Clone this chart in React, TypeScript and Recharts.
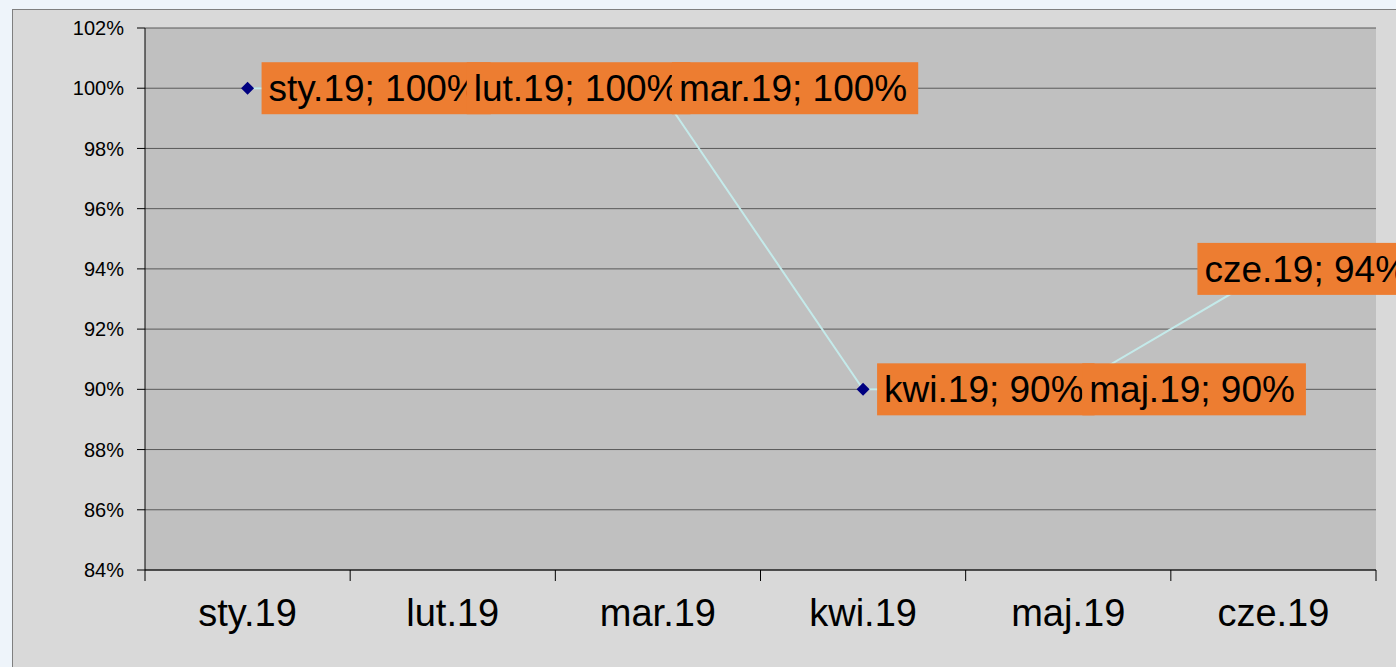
import React from "react";
import { LineChart, Line, XAxis, YAxis, CartesianGrid, LabelList } from "recharts";

const months = ["sty.19", "lut.19", "mar.19", "kwi.19", "maj.19", "cze.19"];
const values = [100, 100, 100, 90, 90, 94];
const yTicks = [84, 86, 88, 90, 92, 94, 96, 98, 100, 102];

const data = months.map((m, i) => ({ month: m, v: values[i] }));

const FONT = "'Liberation Sans', Arial, sans-serif";
const CHART_W = 1383;
const CHART_H = 657;
const MARGIN = { top: 18, right: 20, left: 0, bottom: 0 };
const Y_W = 132;
const X_H = 97;
const PLOT_W = CHART_W - MARGIN.right - Y_W;
const LABEL_FS = 37;

let ctx: CanvasRenderingContext2D | null = null;
const measure = (text: string, size: number) => {
  if (!ctx) ctx = document.createElement("canvas").getContext("2d");
  if (!ctx) return text.length * size * 0.52;
  ctx.font = `${size}px ${FONT}`;
  return ctx.measureText(text).width;
};

const XTick = (props: any) => {
  const { x, y, payload, index } = props;
  const bw = PLOT_W / months.length;
  return (
    <g>
      <line x1={x - bw / 2} y1={y} x2={x - bw / 2} y2={y + 11} stroke="#000" />
      {index === months.length - 1 && (
        <line x1={x + bw / 2} y1={y} x2={x + bw / 2} y2={y + 11} stroke="#000" />
      )}
      <text x={x} y={y + 56} textAnchor="middle" fontSize={38} fontFamily={FONT} fill="#000">
        {payload.value}
      </text>
    </g>
  );
};

const Diamond = (props: any) => {
  const { cx, cy, index } = props;
  if (cx == null || cy == null) return null;
  const r = 6.5;
  return (
    <polygon
      key={`d-${index}`}
      points={`${cx},${cy - r} ${cx + r},${cy} ${cx},${cy + r} ${cx - r},${cy}`}
      fill="#000080"
    />
  );
};

const BoxLabel = (props: any) => {
  const x = props.x ?? props.viewBox?.x;
  const y = props.y ?? props.viewBox?.y;
  const { value, index } = props;
  if (x == null || y == null) return null;
  const text = `${months[index]}; ${value}%`;
  const w = measure(text, LABEL_FS);
  // last label sits shifted left of its point, as in the original
  const left = index === months.length - 1 ? x - 76 : x + 14;
  return (
    <g>
      <rect x={left} y={y - 26} width={w + 18} height={52} fill="#ed7d31" />
      <text x={left + 7} y={y + 13} fontSize={LABEL_FS} fontFamily={FONT} fill="#000">
        {text}
      </text>
    </g>
  );
};

const App = () => {
  return (
    <div
      style={{
        position: "absolute",
        left: 0,
        top: 0,
        width: 1396,
        height: 667,
        overflow: "hidden",
        background: "#eef4fa",
      }}
    >
      <div
        style={{
          position: "absolute",
          left: 12,
          top: 9,
          width: 1400,
          height: 700,
          border: "1px solid #7f7f7f",
          background: "#d9d9d9",
        }}
      >
        <LineChart width={CHART_W} height={CHART_H} data={data} margin={MARGIN}>
          <CartesianGrid vertical={false} stroke="#595959" fill="#c0c0c0" />
          <XAxis
            dataKey="month"
            scale="band"
            height={X_H}
            interval={0}
            tickSize={0}
            tickMargin={0}
            tickLine={false}
            axisLine={{ stroke: "#000" }}
            tick={<XTick />}
          />
          <XAxis
            xAxisId="top"
            dataKey="month"
            orientation="top"
            scale="band"
            height={0}
            tick={false}
            tickLine={false}
            axisLine={{ stroke: "#808080", strokeWidth: 2 }}
          />
          <YAxis
            width={Y_W}
            domain={[84, 102]}
            ticks={yTicks}
            interval={0}
            tickFormatter={(v) => `${v}%`}
            tick={{ fontSize: 20, fill: "#000", fontFamily: FONT }}
            tickSize={8}
            tickMargin={13}
            axisLine={{ stroke: "#000" }}
            tickLine={{ stroke: "#000" }}
          />
          <YAxis
            yAxisId="right"
            orientation="right"
            width={0}
            domain={[84, 102]}
            tick={false}
            tickLine={false}
            axisLine={{ stroke: "#808080", strokeWidth: 2 }}
          />
          <Line
            type="linear"
            dataKey="v"
            stroke="#c4eaea"
            strokeWidth={2}
            dot={<Diamond />}
            activeDot={false}
            isAnimationActive={false}
          >
            <LabelList dataKey="v" content={<BoxLabel />} />
          </Line>
        </LineChart>
      </div>
    </div>
  );
};

export default App;
